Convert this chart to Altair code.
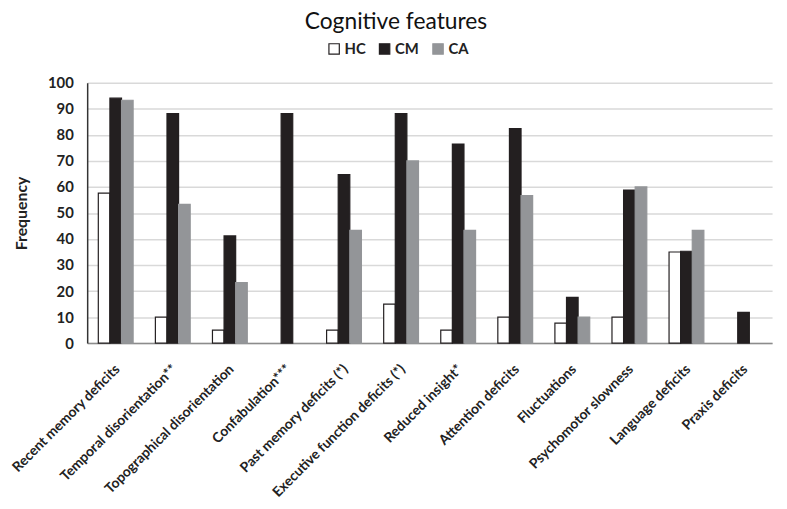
import altair as alt
import pandas as pd

categories = [
    "Recent memory deficits", "Temporal disorientation**", "Topographical disorientation",
    "Confabulation***", "Past memory deficits (*)", "Executive function deficits (*)",
    "Reduced insight*", "Attention deficits", "Fluctuations", "Psychomotor slowness",
    "Language deficits", "Praxis deficits",
]
groups = ["HC", "CM", "CA"]
hc = [57.6, 10, 5, 0, 5, 15, 5, 10, 7.7, 10, 35, 0]
cm = [94.1, 88.2, 41.2, 88.2, 64.7, 88.2, 76.5, 82.4, 17.6, 58.8, 35.3, 11.8]
ca = [93.3, 53.3, 23.3, 0, 43.3, 70, 43.3, 56.7, 10, 60, 43.3, 0]
y_ticks = [0, 10, 20, 30, 40, 50, 60, 70, 80, 90, 100]

rows = []
for i, c in enumerate(categories):
    for g, vals in zip(groups, [hc, cm, ca]):
        rows.append({"feature": c, "group": g, "value": vals[i]})
df = pd.DataFrame(rows)

FONT = "Lato"

bars = alt.Chart(df).transform_filter("datum.value > 0").mark_bar(strokeWidth=1.2).encode(
    x=alt.X("feature:N", sort=categories, title=None,
            scale=alt.Scale(domain=categories, paddingInner=0.39, paddingOuter=0.195),
            axis=alt.Axis(labelAngle=-45, labelAlign="right", labelBaseline="middle",
                          labelPadding=24, labelOffset=2, ticks=False, domainColor="#8c8c8c",
                          domainWidth=1.5, labelFontSize=14, labelFontWeight="bold",
                          labelColor="#222222", labelFont=FONT, labelLimit=300)),
    xOffset=alt.XOffset("group:N", sort=groups,
                        scale=alt.Scale(domain=groups, paddingInner=0, paddingOuter=0)),
    y=alt.Y("value:Q", title="Frequency",
            scale=alt.Scale(domain=[0, 100], nice=False),
            axis=alt.Axis(values=y_ticks, ticks=False, domainColor="#333333", domainWidth=1.5,
                          gridColor="#d9d9d9", gridWidth=1.5, labelPadding=14,
                          labelFontSize=15, labelFontWeight="bold", labelColor="#222222",
                          labelFont=FONT, titleFont=FONT, titleFontSize=16,
                          titleFontWeight="bold", titleColor="#222222", titlePadding=18)),
    fill=alt.Fill("group:N", sort=groups,
                  scale=alt.Scale(domain=groups, range=["#ffffff", "#231f20", "#939598"]),
                  legend=alt.Legend(title=None, orient="none", direction="horizontal",
                                    legendX=242, legendY=-42, symbolType="square",
                                    symbolSize=110, symbolStrokeWidth=1.2,
                                    labelFontSize=15, labelFontWeight="bold",
                                    labelColor="#222222", labelFont=FONT,
                                    columnPadding=10, labelOffset=3)),
    stroke=alt.Stroke("group:N", sort=groups,
                      scale=alt.Scale(domain=groups, range=["#231f20", "#231f20", "#939598"]),
                      legend=None),
)

chart = bars.properties(
    width=692, height=263,
    autosize=alt.AutoSizeParams(type="none"),
    padding={"left": 80, "top": 73, "right": 7, "bottom": 165},
    title=alt.TitleParams("Cognitive features", fontSize=23, fontWeight="normal",
                          font=FONT, color="#111111", anchor="middle", dx=-34, offset=7),
).configure_view(stroke=None)

chart.save("out.html", embed_options={"renderer": "svg", "actions": False})
